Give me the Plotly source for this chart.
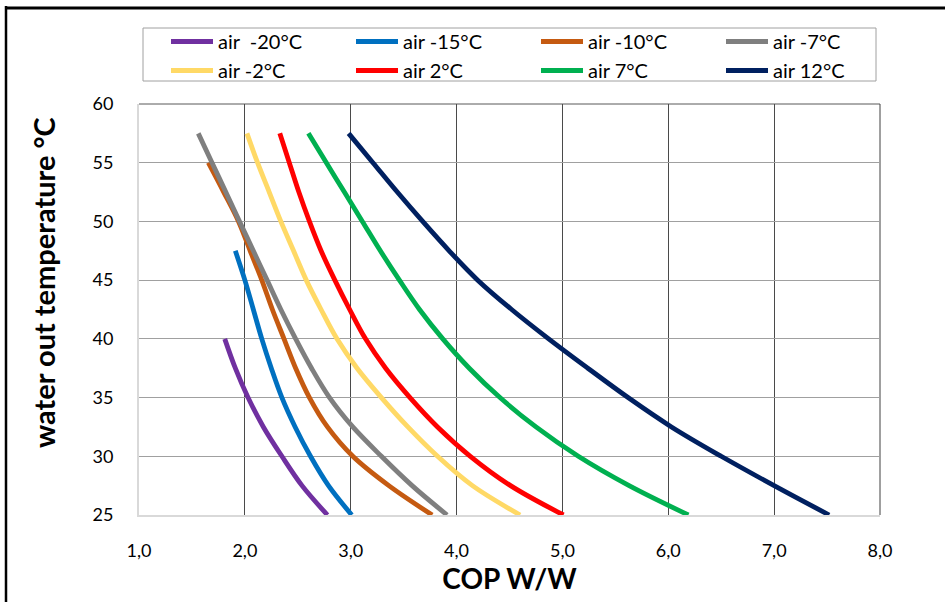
import plotly.graph_objects as go

# water out temperature (°C) sample levels and read COP values
t_m20 = [40, 37.5, 35, 32.5, 30, 27.5, 25]
cop_m20 = [1.81, 1.91, 2.03, 2.175, 2.35, 2.54, 2.78]

t_m15 = [47.5, 45, 42.5, 40, 37.5, 35, 32.5, 30, 27.5, 25]
cop_m15 = [1.91, 2.00, 2.08, 2.16, 2.25, 2.35, 2.475, 2.62, 2.79, 3.01]

t_m10 = [55, 52.5, 50, 47.5, 45, 42.5, 40, 37.5, 35, 32.5, 30, 27.5, 25]
cop_m10 = [1.655, 1.80, 1.94, 2.05, 2.16, 2.26, 2.37, 2.48, 2.61, 2.78, 3.02, 3.36, 3.77]

t_m7 = [57.5, 55, 52.5, 50, 47.5, 45, 42.5, 40, 37.5, 35, 32.5, 30, 27.5, 25]
cop_m7 = [1.56, 1.69, 1.82, 1.95, 2.08, 2.21, 2.34, 2.48, 2.63, 2.80, 3.02, 3.29, 3.58, 3.91]

t_m2 = [57.5, 55, 52.5, 50, 47.5, 45, 42.5, 40, 37.5, 35, 32.5, 30, 27.5, 25]
cop_m2 = [2.02, 2.12, 2.23, 2.34, 2.46, 2.58, 2.72, 2.87, 3.06, 3.29, 3.54, 3.82, 4.15, 4.60]

t_p2 = [57.5, 55, 52.5, 50, 47.5, 45, 42.5, 40, 37.5, 35, 32.5, 30, 27.5, 25]
cop_p2 = [2.33, 2.42, 2.51, 2.61, 2.72, 2.85, 2.99, 3.14, 3.33, 3.56, 3.82, 4.13, 4.51, 5.01]

t_p7 = [57.5, 55, 52.5, 50, 47.5, 45, 42.5, 40, 37.5, 35, 32.5, 30, 27.5, 25]
cop_p7 = [2.60, 2.77, 2.94, 3.11, 3.28, 3.46, 3.65, 3.87, 4.12, 4.41, 4.75, 5.15, 5.63, 6.19]

t_p12 = [57.5, 55, 52.5, 50, 47.5, 45, 42.5, 40, 37.5, 35, 32.5, 30, 27.5, 25]
cop_p12 = [2.98, 3.21, 3.44, 3.68, 3.93, 4.20, 4.52, 4.87, 5.24, 5.62, 6.03, 6.50, 7.00, 7.52]

series_names = ["air\u00a0\u00a0-20°C", "air -15°C", "air -10°C", "air -7°C",
                "air -2°C", "air 2°C", "air 7°C", "air 12°C"]
series_x = [cop_m20, cop_m15, cop_m10, cop_m7, cop_m2, cop_p2, cop_p7, cop_p12]
series_y = [t_m20, t_m15, t_m10, t_m7, t_m2, t_p2, t_p7, t_p12]
colors = ["#7030a0", "#0070c0", "#c55a11", "#7f7f7f",
          "#ffd966", "#ff0000", "#00b050", "#002060"]

x_ticks = [1, 2, 3, 4, 5, 6, 7, 8]
y_ticks = [25, 30, 35, 40, 45, 50, 55, 60]
x_title = "COP W/W"
y_title = "water out temperature °C"

FONT = "Lato, 'Open Sans', sans-serif"

fig = go.Figure()
for name, xs, ys, c in zip(series_names, series_x, series_y, colors):
    fig.add_trace(go.Scatter(
        x=xs, y=ys, name=name, mode="lines",
        line=dict(color=c, width=4.8, shape="spline", smoothing=1.0),
    ))

W, H = 945, 602
L, R, T, B = 139, 65, 104, 87
pw, ph = W - L - R, H - T - B

def px_x(p):
    return (p - L) / pw

def px_y(p):
    return 1 - (p - T) / ph

fig.update_layout(
    width=W, height=H,
    margin=dict(l=L, r=R, t=T, b=B),
    paper_bgcolor="white", plot_bgcolor="white",
    separators=", ",
    font=dict(family=FONT, size=17, color="#000000"),
    showlegend=True,
    legend=dict(
        orientation="h",
        x=px_x(906), y=px_y(22), xanchor="right", yanchor="top",
        bordercolor="rgba(0,0,0,0)", borderwidth=0,
        bgcolor="rgba(0,0,0,0)",
        entrywidth=128, entrywidthmode="pixels",
        itemwidth=42,
        font=dict(family=FONT, size=20, color="#000000"),
        tracegroupgap=0,
    ),
    xaxis=dict(
        range=[1, 8], tickvals=x_ticks, tickformat=".1f",
        showgrid=True, gridcolor="#4a4a4a", gridwidth=1,
        showline=True, linecolor="#d9d9d9", linewidth=2,
        zeroline=False, ticks="", ticklabelstandoff=18,
        tickfont=dict(family=FONT, size=18),
        title=dict(text="<b>" + x_title + "</b>", standoff=10,
                   font=dict(family=FONT, size=28)),
    ),
    yaxis=dict(
        range=[25, 60], tickvals=y_ticks,
        showgrid=True, gridcolor="#a0a0a0", gridwidth=1,
        showline=True, linecolor="#d9d9d9", linewidth=2,
        zeroline=False, ticks="", ticklabelstandoff=20,
        tickfont=dict(family=FONT, size=18),
    ),
    annotations=[
        dict(text="<b>" + y_title + "</b>", xref="paper", yref="paper",
             x=px_x(43), y=px_y(283), xanchor="center", yanchor="middle",
             textangle=-90, showarrow=False,
             font=dict(family=FONT, size=29, color="#000000")),
    ],
    shapes=[
        # legend box
        dict(type="rect", xref="paper", yref="paper", layer="below",
             x0=px_x(143), x1=px_x(876), y0=px_y(28), y1=px_y(81),
             line=dict(color="#a0a0a0", width=1), fillcolor="white"),
        # outer frame (top and left)
        dict(type="line", xref="paper", yref="paper",
             x0=px_x(5), x1=px_x(W + 5), y0=px_y(8), y1=px_y(8),
             line=dict(color="black", width=3)),
        dict(type="line", xref="paper", yref="paper",
             x0=px_x(6), x1=px_x(6), y0=px_y(6), y1=px_y(H + 5),
             line=dict(color="black", width=2.5)),
        # plot top and right edges
        dict(type="line", xref="paper", yref="paper",
             x0=0, x1=1, y0=1, y1=1, layer="below",
             line=dict(color="#595959", width=1)),
        dict(type="line", xref="paper", yref="paper",
             x0=1, x1=1, y0=0, y1=1, layer="below",
             line=dict(color="#404040", width=1)),
    ],
)

fig.write_html("out.html", config={"displayModeBar": False},
               post_script="document.body.style.margin='0px';")
